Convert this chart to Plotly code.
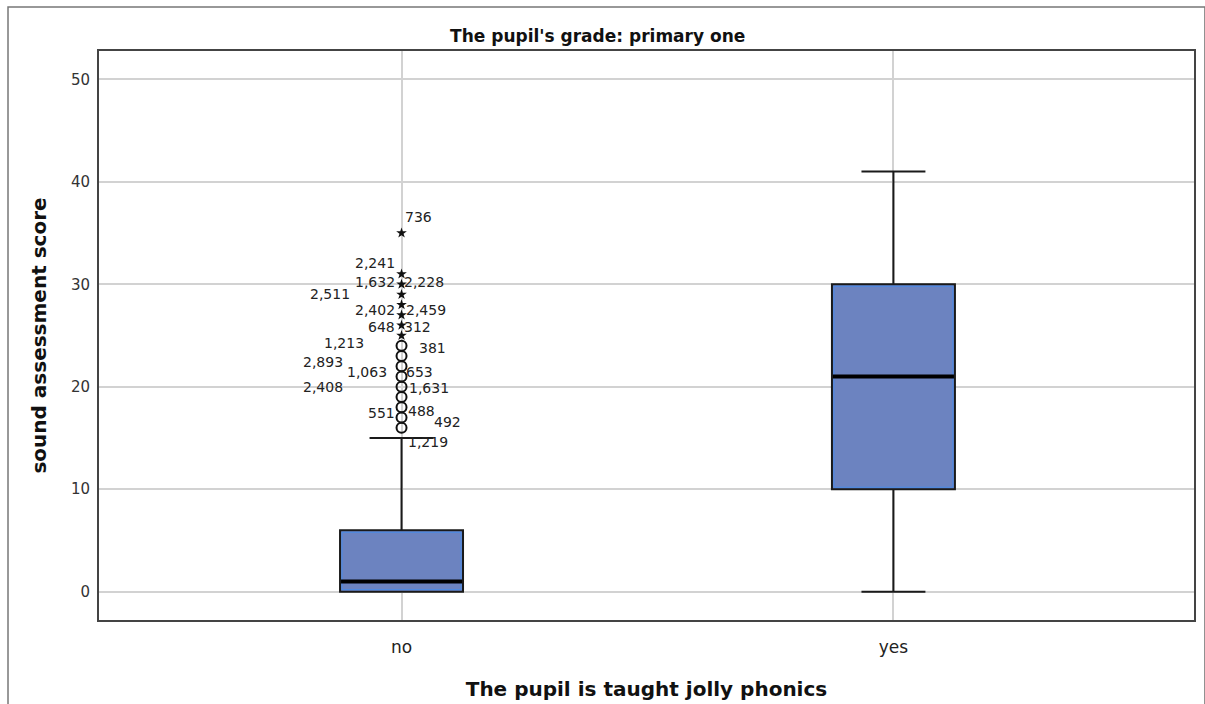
import plotly.graph_objects as go

# Groups on the x axis
categories = ["no", "yes"]

# Box statistics per group (sound assessment score)
q1 = [0, 10]
medians = [1, 21]
q3 = [6, 30]
lower_whisker = [0, 0]
upper_whisker = [15, 41]

# Outlying scores in the "no" group
mild_outliers = [16, 17, 18, 19, 20, 21, 22, 23, 24]
extreme_outliers = [25, 26, 27, 28, 29, 30, 31, 35]

# Case numbers labelling the outliers, and the score each one labels
case_labels = ["736", "2,241", "1,632", "2,228", "2,511", "2,402", "2,459",
               "648", "312", "1,213", "381", "2,893", "1,063", "653",
               "2,408", "1,631", "551", "488", "492", "1,219"]
case_values = [35, 31, 30, 30, 29, 28, 28, 26, 26, 24, 24, 23, 22, 22,
               20, 20, 18, 18, 17, 16]

# label placement: (anchor side, x offset px, y offset px)
label_place = [("left", 1, 16), ("right", -5, 11), ("right", -5, 2), ("left", 0, 2),
               ("right", -50, 1), ("right", -5, -5), ("left", 2, -5),
               ("right", -5, -2), ("left", 0, -2), ("right", -36, 3), ("left", 15, -2),
               ("right", -57, -6), ("right", -13, -6), ("left", 2, -6),
               ("right", -57, 0), ("left", 5, -1), ("right", -5, -6), ("left", 4, -4),
               ("left", 30, -5), ("left", 4, -14)]

FONT = "DejaVu Sans"
BOX_FILL = "rgb(108,131,192)"
BOX_WIDTH = 0.25          # in category units
PX = 1 / 492              # one pixel in category units
PY = 55.52 / 569          # one pixel in score units

fig = go.Figure()

fig.add_trace(go.Box(
    x=categories,
    q1=q1, median=medians, q3=q3,
    lowerfence=lower_whisker, upperfence=upper_whisker,
    boxpoints=False,
    width=BOX_WIDTH,
    whiskerwidth=0.52,
    fillcolor=BOX_FILL,
    line=dict(color="#1a1a1a", width=2),
    showlegend=False,
    hoverinfo="skip",
))

# bright inner edge of each box and a heavy median bar
for i in range(len(categories)):
    x0 = i - BOX_WIDTH / 2 + 2 * PX
    x1 = i + BOX_WIDTH / 2 - 2 * PX
    fig.add_shape(type="rect", xref="x", yref="y",
                  x0=x0, x1=x1, y0=q1[i] + 2 * PY, y1=q3[i] - 2 * PY,
                  line=dict(color="rgba(70,140,235,0.9)", width=1), layer="above")
    fig.add_shape(type="line", xref="x", yref="y",
                  x0=i - BOX_WIDTH / 2 + PX, x1=i + BOX_WIDTH / 2 - PX,
                  y0=medians[i], y1=medians[i],
                  line=dict(color="#000000", width=4), layer="above")

fig.add_trace(go.Scatter(
    x=[categories[0]] * len(mild_outliers), y=mild_outliers,
    mode="markers",
    marker=dict(symbol="circle-open", size=10, color="#111111", line=dict(width=2)),
    showlegend=False, hoverinfo="skip",
))

fig.add_trace(go.Scatter(
    x=[categories[0]] * len(extreme_outliers), y=extreme_outliers,
    mode="markers",
    marker=dict(symbol="star", size=8, color="#111111"),
    showlegend=False, hoverinfo="skip",
))

for text, val, (side, dx, dy) in zip(case_labels, case_values, label_place):
    fig.add_annotation(
        x=categories[0], y=val, xref="x", yref="y",
        text=text, showarrow=False,
        xanchor=side, yanchor="middle",
        xshift=dx, yshift=dy,
        font=dict(family=FONT, size=14, color="#222222"),
    )

# thin outer frame around the whole graphic
fig.add_shape(type="rect", xref="paper", yref="paper",
              x0=-0.0831, x1=1.0100, y0=-0.2, y1=1.0774,
              line=dict(color="#777777", width=1.5), layer="below")

fig.update_layout(
    width=1205, height=704,
    margin=dict(l=99, r=11, t=51, b=84),
    paper_bgcolor="white", plot_bgcolor="white",
    title=dict(text="<b>The pupil's grade: primary one</b>",
               x=0.496, xref="container", xanchor="center",
               y=1 - 36 / 704, yref="container", yanchor="middle",
               font=dict(family=FONT, size=17, color="#111111")),
    font=dict(family=FONT),
    xaxis=dict(
        range=[-0.615, 1.611], automargin=False,
        showgrid=True, gridcolor="#d2d2d2", gridwidth=1.5,
        showline=True, mirror=True, linecolor="#444444", linewidth=2,
        ticks="", ticklabelstandoff=11,
        tickfont=dict(family=FONT, size=17, color="#222222"),
        title=dict(text="<b>The pupil is taught jolly phonics</b>",
                   font=dict(family=FONT, size=20, color="#111111"), standoff=26),
        zeroline=False,
    ),
    yaxis=dict(
        range=[-2.76, 52.76], automargin=False,
        tickvals=[0, 10, 20, 30, 40, 50],
        showgrid=True, gridcolor="#d2d2d2", gridwidth=1.5,
        showline=True, mirror=True, linecolor="#444444", linewidth=2,
        ticks="", ticklabelstandoff=4,
        tickfont=dict(family=FONT, size=15, color="#333333"),
        title=dict(text="<b>sound assessment score</b>",
                   font=dict(family=FONT, size=20, color="#111111"), standoff=19),
        zeroline=False,
    ),
)

fig.write_html("out.html")
